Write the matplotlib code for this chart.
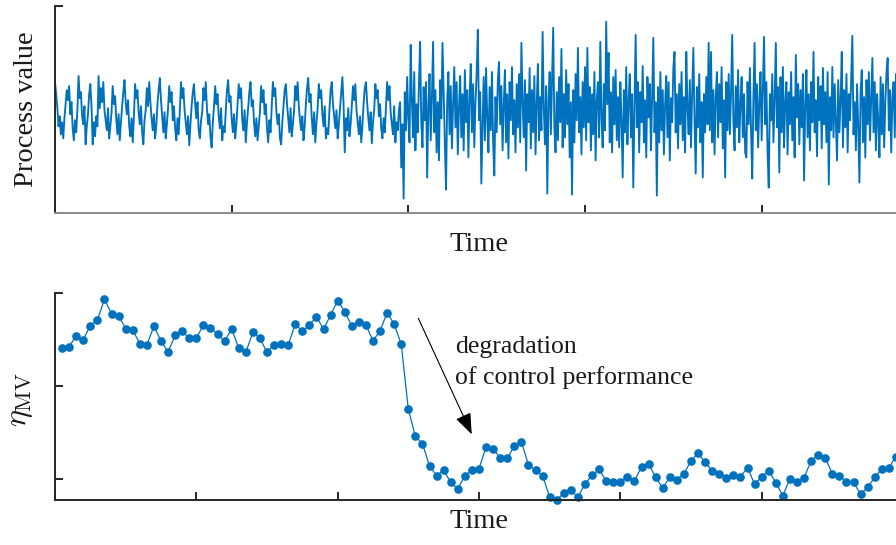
"""
Process value trace and the MV-based performance index over time.
Top: raw process value, bottom: eta_MV per window.
"""
import numpy as np
import matplotlib
matplotlib.use("Agg")
import matplotlib.pyplot as plt

# Process value before the degradation (quasi periodic, small amplitude)
pv_before = [
    30, 18, 4, -14, -4, -22, -10, -26, -6, 8,
    22, 12, 26, -2, 10, -16, -28, -8, -20, 2,
    36, 14, 20, -4, -12, 6, -32, -14, -2,
    18, 28, 6, -32, -10, -24, -4, -14, 36, 4,
    24, 10, 30, 2, -8, -18, 4, -26, -14, 0,
    26, 8, 16, -6, -22, -2, -28, -10, 6,
    20, 32, 10, -2, 12, -14, -24, -6, -30, -4,
    28, 14, 22, 0, -12, 6, -20, -32, -8, 2,
    24, 6, 30, 10, -6, -18, -2, -26, -14, 8,
    22, 34, 12, -4, -20, 0, -26, -12, 4,
    26, 10, 20, -8, 6, -16, -28, -6, -22, 2,
    30, 14, 24, 2, -10, -22, -4, -33, -12, 6,
    20, 28, 8, -6, 10, -18, -26, -8, 0,
    24, 12, 30, 4, -12, -2, -24, -35, -10, 6,
    26, 8, 18, -4, -16, 4, -28, -14, -20, 2,
    22, 32, 10, 16, -6, -20, -2, -26, -12, 8,
    28, 14, 24, -8, -18, 2, -30, -10, 4,
    20, 30, 6, 12, -10, -24, -6, -28, -14, 0,
    26, 10, 22, -2, 8, -16, -30, -8, -20, 4,
    30, 16, 24, 0, -12, -2, -26, -32, -10, 6,
    22, 28, 8, -6, -20, 4, -24, -12, 2,
    26, 12, 30, 6, -8, -18, -4, -28, -14, 8,
    24, 34, 10, 18, -6, -22, 0, -30, -10, 4,
    28, 14, 22, -2, -14, 6, -26, -16, -22, 2,
    22, 30, 8, -4, -16, 2, -26, -12, 4,
    20, 35, 8, -40, -6, -18, 4, -24, -12, 6,
    26, 12, 28, 2, -10, -22, -4, -30, -14, 8,
    24, 30, 10, -6, -18, 0, -31, -10, 2,
    28, 14, 22, -4, 8, -16, -26, -6, -20, 4,
    30, 12, 26, 0, -12, -22, 6, -30, -10, -18, 2,
]

# Process value after the degradation (larger, irregular swings)
pv_after = [
    10, -55, -12, -86, 20, -18, 35, -5, -30, 67, 12, -25, 40, -38, 8, -20, 28, 70, -10, -35,
    25, -8, 30, -65, 5, 38, -28, 15, 70, -20, 22, -40, 10, -48, 32, -6, 69, 18, -30, -77,
    12, 40, -22, 26, -36, 8, 45, -15, 30, -42, 5, 36, -25, 18, -38, 42, -10, 22, -45, 15,
    48, -20, 28, -35, 10, 38, 82, -8, 20, -71, -15, 35, -28, 44, -5, -40, 25, -18, 40, -30,
    -63, 15, -20, 32, 50, -12, 26, -38, 6, 42, -30, 18, -46, 30, -8, 45, -22, 12, -40, 28,
    -15, 38, -30, 69, 10, -25, 32, -58, 18, -10, 44, -36, 22, -20, 36, -42, 8, 48, -28, 15,
    -18, 80, 5, -32, 26, -81, 12, 40, -22, 30, 84, -15, -40, 20, -28, 35, -10, 63, -35, 18,
    -25, 42, -12, 28, -45, 10, -82, 22, -30, 38, -8, 64, -20, 15, -42, 30, -15, 45, -28, 64,
    -10, 25, -38, 18, -22, 40, -48, 12, 30, -25, 70, -5, -35, 28, -18, 90, 8, 59, -30, 20,
    -40, 35, -12, 42, -28, 15, -35, 30, -8, -65, 22, -20, 45, -32, 10, 38, -25, 18, -75, 5,
    77, -15, 30, -40, 20, -10, 46, -30, 12, -45, 35, -5, 28, -38, 15, 74, -20, 10, -83, 25,
    -30, 40, -18, 22, -42, 8, 36, -25, 30, -48, 14, -10, 44, 60, -20, 18, -36, 28, -12, 40,
    -28, 15, -40, 60, 5, -22, 32, -35, 20, 64, -8, -61, 25, -15, 38, -30, 10, -65, 18, -20,
    35, -12, 69, -18, 60, -30, 22, -42, 15, 40, -25, 28, -10, 45, -36, 12, -65, 30, -18, 38,
    -22, 20, 77, -10, -38, 26, -15, 42, -30, 8, 35, -25, 18, -40, -45, 30, -12, 44, -20, -66,
    15, 69, -18, 28, -35, 10, 40, -28, 22, 75, -12, 30, -40, -75, 18, -8, 38, -30, 12, 69,
    -15, 25, -60, 35, -20, 45, -35, 10, 30, -42, 20, -12, 40, -28, 15, -45, 57, -5, 28, -32,
    22, -15, 38, -68, 8, 42, -25, 18, -38, 30, -10, 60, -20, 12, -44, 35, -8, 26, -36, 44,
    -12, 20, -30, 40, -72, 15, -18, 45, -25, 28, -10, -48, 32, -20, 12, 60, -35, 22, -15, 38,
    -40, 18, -8, 35, 76, -22, 10, -38, 28, -15, -70, 20, 42, -30, 15, -45, 32, -12, 40, -28,
    12, 54, -20, 30, -38, 18, -10, -45, 35, -22, 28, -35, 10, 40, 54, -18, 22, -40, 15, 30,
    -25, 38, -12, 20, -42, 28, -8,
]

# eta_MV for each evaluation window (windows 1..119)
eta_mv = [
    0.705, 0.710, 0.769, 0.748, 0.823, 0.853, 0.965, 0.887, 0.877, 0.807,
    0.800, 0.726, 0.719, 0.820, 0.741, 0.682, 0.771, 0.793, 0.755, 0.758,
    0.825, 0.812, 0.777, 0.741, 0.805, 0.702, 0.680, 0.787, 0.755, 0.680,
    0.719, 0.726, 0.719, 0.832, 0.793, 0.827, 0.871, 0.804, 0.880, 0.957,
    0.898, 0.821, 0.844, 0.827, 0.741, 0.796, 0.893, 0.830, 0.723, 0.374,
    0.229, 0.189, 0.070, 0.018, 0.047, -0.018, -0.054, 0.018, 0.048, 0.055,
    0.172, 0.161, 0.114, 0.111, 0.176, 0.200, 0.075, 0.047, 0.018, -0.097,
    -0.114, -0.075, -0.061, -0.097, -0.027, 0.020, 0.052, -0.011, -0.018, -0.014,
    0.009, -0.009, 0.064, 0.081, 0.009, -0.050, 0.011, -0.004, 0.028, 0.097,
    0.138, 0.090, 0.043, 0.028, 0.007, 0.021, 0.012, 0.061, -0.028, 0.011,
    0.045, -0.020, -0.090, 0.002, -0.014, 0.007, 0.097, 0.129, 0.113, 0.028,
    0.018, -0.016, -0.018, -0.082, -0.045, 0.009, 0.054, 0.061, 0.120,
]

t_end = 4.8          # top axis range (ticks every 1.0)
n_windows = 120      # bottom axis range (ticks every 20)
blue = '#0072BD'
axis_col = '#262626'

plt.rcParams['font.family'] = ['Liberation Serif', 'DejaVu Serif']
plt.rcParams['mathtext.fontset'] = 'cm'

pv = np.array(pv_before + pv_after, dtype=float)
t = np.arange(len(pv)) * t_end / len(pv)
eta = np.array(eta_mv)
win = np.arange(1, len(eta) + 1)

W, H = 896, 545
fig = plt.figure(figsize=(W / 100, H / 100), dpi=100)
ax1 = fig.add_axes([55 / W, (H - 212.7) / H, 848 / W, 207 / H])
ax2 = fig.add_axes([55 / W, (H - 500) / H, 848 / W, 207.3 / H])

# --- top: process value ---
ax1.plot(t, pv, color=blue, lw=1.35)
ax1.set_xlim(0, t_end)
ax1.set_ylim(-100, 106)
ax1.set_xticks([0, 1, 2, 3, 4])
ax1.set_yticks([-100, 106])
ax1.set_xlabel('Time', fontsize=20.5)
ax1.set_ylabel('Process value', fontsize=20.5)
ax1.xaxis.set_label_coords(0.5, -0.092)
ax1.yaxis.set_label_coords(-0.019, 0.5)
ax1.spines['bottom'].set_color('#8c8c8c')

# --- bottom: eta_MV ---
ax2.plot(win, eta, color=blue, lw=0.9, marker='o', ms=5.2, clip_on=False)
ax2.set_xlim(0, n_windows)
ax2.set_ylim(-0.113, 1.0)
ax2.set_xticks(np.arange(0, n_windows + 1, 20))
ax2.set_yticks([0, 0.5, 1.0])
ax2.set_xlabel('Time', fontsize=20.5)
ax2.set_ylabel(r'$\eta_{\mathrm{MV}}$', fontsize=23)
ax2.xaxis.set_label_coords(0.5, -0.045)
ax2.yaxis.set_label_coords(-0.024, 0.482)

ax2.annotate('', xy=(58.97, 0.240), xytext=(51.41, 0.863),
             arrowprops=dict(arrowstyle='-|>,head_length=0.65,head_width=0.25',
                             color='k', lw=0.8, mutation_scale=20,
                             shrinkA=0, shrinkB=0))
ax2.text(56.6, 0.769, 'degradation\nof control performance',
         fontsize=18.5, ha='left', va='top', color='#1a1a1a', linespacing=1.45)

for ax in (ax1, ax2):
    ax.spines['top'].set_visible(False)
    ax.spines['right'].set_visible(False)
    ax.spines['left'].set_color(axis_col)
    ax.spines['left'].set_linewidth(1.4)
    ax.spines['bottom'].set_linewidth(1.4)
    ax.tick_params(direction='in', length=6, width=1.4, color=axis_col,
                   labelbottom=False, labelleft=False)
    ax.xaxis.label.set_color('#1a1a1a')
    ax.yaxis.label.set_color('#1a1a1a')
ax2.spines['bottom'].set_color(axis_col)

fig.savefig('out.png', dpi=100)
